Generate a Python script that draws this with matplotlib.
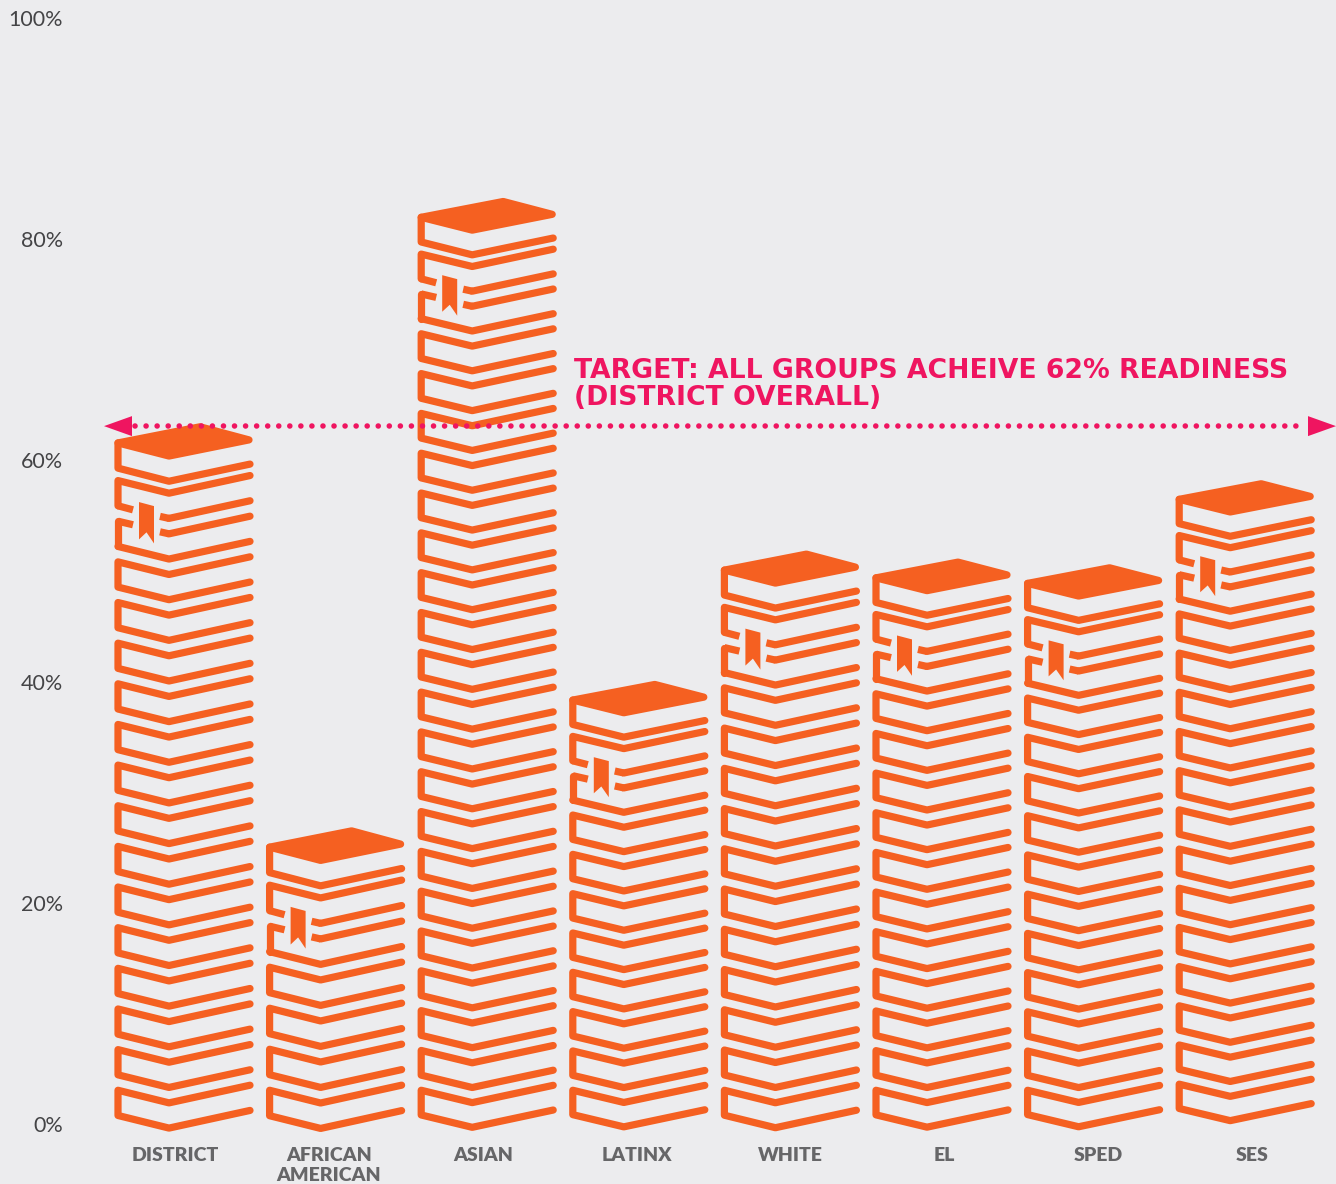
import matplotlib
matplotlib.use('Agg')
import matplotlib.pyplot as plt
from matplotlib.patches import Polygon

# values
groups = ['DISTRICT', 'AFRICAN\nAMERICAN', 'ASIAN', 'LATINX', 'WHITE', 'EL', 'SPED', 'SES']
readiness = [61.85, 25.3, 82.25, 38.6, 50.35, 49.65, 49.15, 56.75]
book_counts = [17, 7, 23, 11, 14, 14, 14, 16]
stack_base = [3.05, 3.05, 3.05, 3.05, 3.05, 3.05, 3.05, 3.6]
target_line = 63.1
pct_ticks = [0, 20, 40, 60, 80, 100]
pct_labels = ['0%', '20%', '40%', '60%', '80%', '100%']
target_text = 'TARGET: ALL GROUPS ACHEIVE 62% READINESS\n(DISTRICT OVERALL)'

BG = '#ECECEE'
ORANGE = '#F56021'
PINK = '#EF1560'
STROKE = 5.2

# pixel layout of the original
W, H = 1336, 1184
X0, X_STEP = 118, 151.6     # left edge of first stack, stack spacing
Y_STEP = 11.06              # pixels per percent
PITCH = 40.3                # book spacing the shapes were measured at

fig = plt.figure(figsize=(W / 100, H / 100), dpi=100, facecolor=BG)
ax = fig.add_axes([68 / W, 60 / H, (W - 68) / W, 1106 / H])
ax.set_facecolor(BG)
ax.set_xlim((68 - X0) / X_STEP, (W - X0) / X_STEP)
ax.set_ylim(0, 100)
for s in ax.spines.values():
    s.set_visible(False)


def to_data(i, y_top, pts, scale):
    # book shapes are given in pixels from the top left corner
    return [(i + dx / X_STEP, y_top - dy * scale / Y_STEP) for dx, dy in pts]


def stroke(i, y_top, pts, scale, cap='round'):
    xy = to_data(i, y_top, pts, scale)
    ax.plot([p[0] for p in xy], [p[1] for p in xy], color=ORANGE, lw=STROKE,
            solid_capstyle=cap, solid_joinstyle='round', clip_on=False)


top_edge = [(132, -5), (51, 12.5), (0, 0)]
bottom_edge = [(0, 25), (51, 37.5), (132, 20)]

for i, (value, n, base) in enumerate(zip(readiness, book_counts, stack_base)):
    pitch = (value - base) / (n - 1)
    scale = pitch * Y_STEP / PITCH
    for b in range(n):
        y_top = base + b * pitch
        from_top = n - 1 - b
        if from_top == 0:
            # closed cover on the top of the stack
            cover = to_data(i, y_top - 0.27, [(0, 0), (51, 13), (131, -3), (82, -16)], scale)
            ax.add_patch(Polygon(cover, closed=True, fc=ORANGE, ec=ORANGE, lw=STROKE, joinstyle='round'))
            stroke(i, y_top - 0.27, [(0, 0), (0, 25), (51, 38), (132, 21)], scale)
        elif from_top == 1:
            # bottom edge is broken by the bookmark
            stroke(i, y_top, top_edge + [(0, 25)], scale)
            stroke(i, y_top, [(0, 25), (15, 29)], scale, cap='butt')
            stroke(i, y_top, [(42, 35.5), (51, 37.5)], scale, cap='butt')
            stroke(i, y_top, [(51, 37.5), (132, 20)], scale)
        elif from_top == 2:
            # top edge is broken by the bookmark
            stroke(i, y_top, [(15, 3.5), (0, 0)], scale, cap='butt')
            stroke(i, y_top, bottom_edge, scale)
            stroke(i, y_top, [(0, 0), (0, 25)], scale)
            stroke(i, y_top, [(42, 10.5), (51, 12.5)], scale, cap='butt')
            stroke(i, y_top, [(51, 12.5), (132, -5)], scale)
            mark = to_data(i, y_top, [(21, -19), (36, -15), (36, 22), (28.5, 11), (21, 18)], scale)
            ax.add_patch(Polygon(mark, closed=True, fc=ORANGE, ec='none'))
        else:
            stroke(i, y_top, top_edge + bottom_edge, scale)

# dotted target line with arrow heads
left_tip = (104 - X0) / X_STEP
right_tip = (W - X0) / X_STEP
head_w = 28 / X_STEP
head_h = 10 / Y_STEP
ax.plot([left_tip + head_w + 0.02, right_tip - head_w - 0.02], [target_line, target_line], color=PINK,
        lw=4.0, linestyle=(0, (0.01, 1.98)), dash_capstyle='round', zorder=5)
ax.add_patch(Polygon([(left_tip, target_line), (left_tip + head_w, target_line + head_h),
                      (left_tip + head_w, target_line - head_h)], fc=PINK, ec='none', zorder=5))
ax.add_patch(Polygon([(right_tip, target_line), (right_tip - head_w, target_line + head_h),
                      (right_tip - head_w, target_line - head_h)], fc=PINK, ec='none', zorder=5, clip_on=False))

ax.text((574 - X0) / X_STEP, 69.3, target_text, color=PINK, fontsize=19.2, fontweight='bold',
        family='DejaVu Sans', va='top', ha='left', linespacing=1.05)

# the axis labels are spaced a little wider than the stacks
ax.set_xticks([(175 + 153.9 * k - X0) / X_STEP for k in range(len(groups))])
ax.set_xticklabels(groups, family='Lato', fontweight='heavy', fontsize=14, color='#666668', linespacing=1.2)
ax.set_yticks(pct_ticks)
ax.set_yticklabels(pct_labels, family='Lato', fontweight='normal', fontsize=15.5, color='#444446')
ax.tick_params(axis='both', length=0)
ax.tick_params(axis='y', pad=3.6)
ax.tick_params(axis='x', pad=16.5)

fig.savefig('out.png', dpi=100, facecolor=BG)
